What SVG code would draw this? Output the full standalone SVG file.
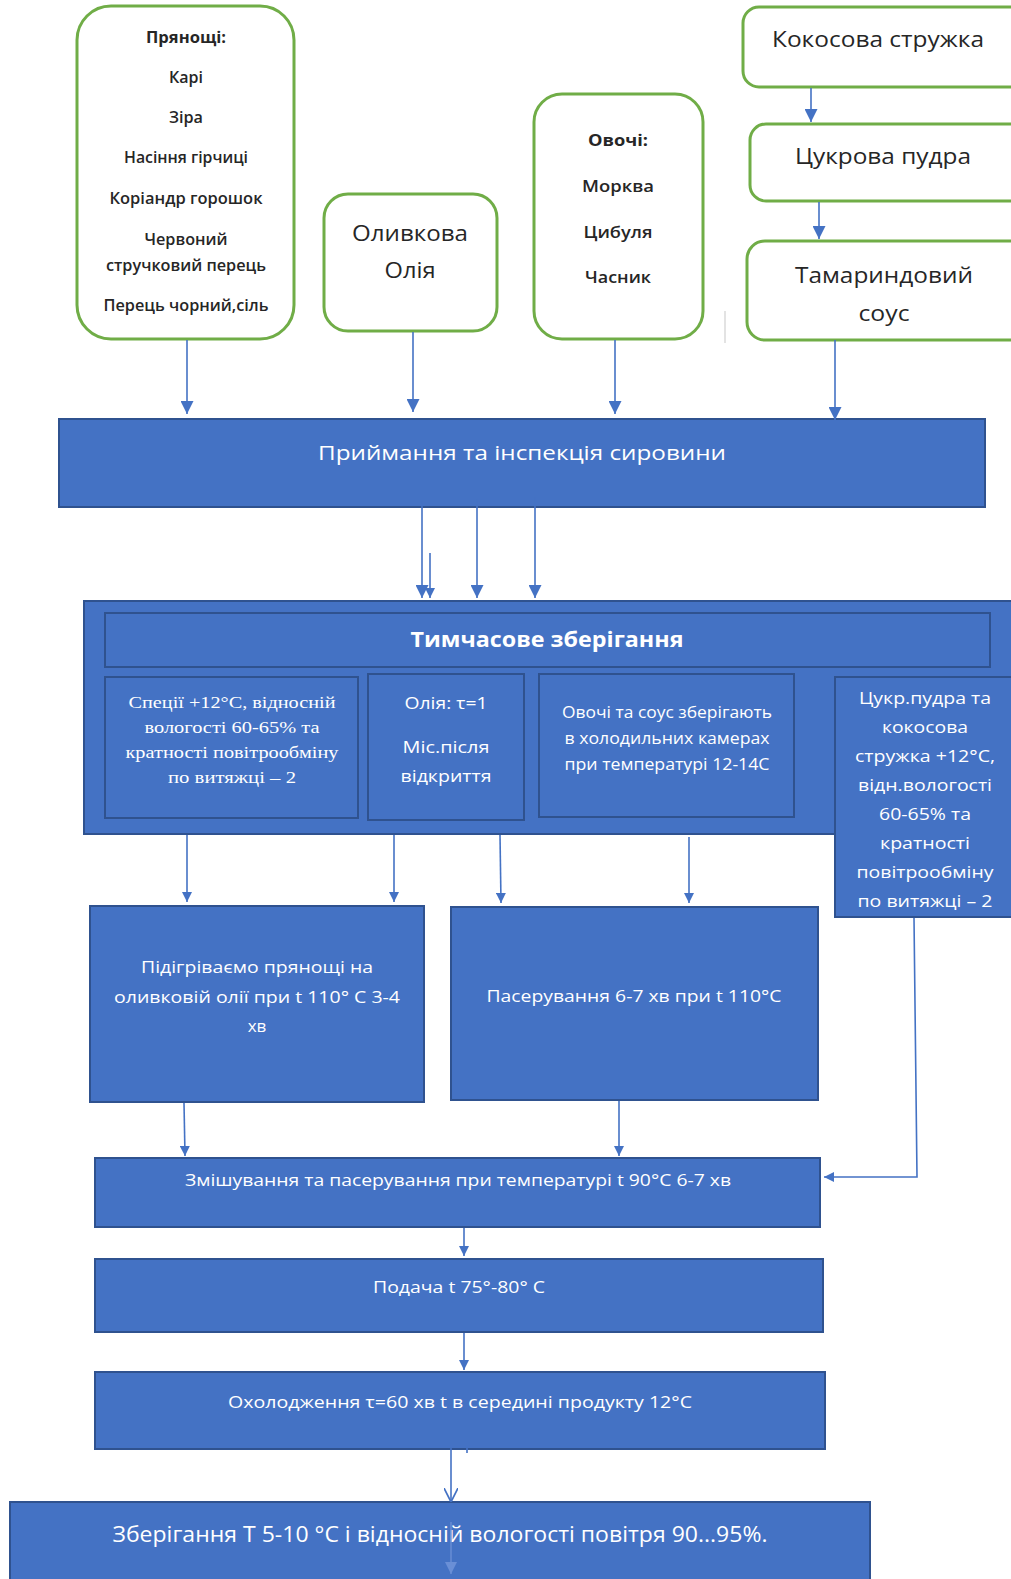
<svg xmlns="http://www.w3.org/2000/svg" width="1011" height="1579" viewBox="0 0 1011 1579">
<style>
.g{fill:#fff;stroke:#70AD47;stroke-width:3}
.b{fill:#4472C4;stroke:#2F528F;stroke-width:2}
.dk{font-family:"Open Sans","Noto Sans",sans-serif;fill:#262626;text-anchor:middle}
.wt{font-family:"Open Sans","Noto Sans",sans-serif;fill:#fff;text-anchor:middle}
.sf{font-family:"Liberation Serif","DejaVu Serif",serif;fill:#fff;text-anchor:middle}
.c{fill:none;stroke:#4472C4;stroke-width:1.6}
</style>
<defs>
<marker id="ah" viewBox="0 0 10 10" refX="10" refY="5" markerWidth="13" markerHeight="13" markerUnits="userSpaceOnUse" orient="auto"><path d="M0,0 L10,5 L0,10 z" fill="#4472C4"/></marker>
<marker id="as" viewBox="0 0 10 10" refX="10" refY="5" markerWidth="11" markerHeight="10" markerUnits="userSpaceOnUse" orient="auto"><path d="M0,0 L10,5 L0,10 z" fill="#4472C4"/></marker>
<marker id="ao" viewBox="0 0 10 10" refX="10" refY="5" markerWidth="14" markerHeight="14" markerUnits="userSpaceOnUse" orient="auto"><path d="M0,0 L10,5 L0,10" fill="none" stroke="#4472C4" stroke-width="1.2"/></marker>
<marker id="af" viewBox="0 0 10 10" refX="10" refY="5" markerWidth="16" markerHeight="12" markerUnits="userSpaceOnUse" orient="auto"><path d="M0,0 L10,5 L0,10 z" fill="#6a8fd6"/></marker>
</defs>

<g id="n-spices">
<rect class="g" x="77" y="6" width="217" height="333" rx="34"/>
<text class="dk" font-size="15.5" font-weight="700" x="186" y="43" textLength="80" lengthAdjust="spacingAndGlyphs">Прянощі:</text>
<text class="dk" font-size="15.5" font-weight="600" x="186" y="83" textLength="34" lengthAdjust="spacingAndGlyphs">Карі</text>
<text class="dk" font-size="15.5" font-weight="600" x="186" y="123" textLength="34" lengthAdjust="spacingAndGlyphs">Зіра</text>
<text class="dk" font-size="15.5" font-weight="600" x="186" y="163" textLength="124" lengthAdjust="spacingAndGlyphs">Насіння гірчиці</text>
<text class="dk" font-size="15.5" font-weight="600" x="186" y="204" textLength="153" lengthAdjust="spacingAndGlyphs">Коріандр горошок</text>
<text class="dk" font-size="15.5" font-weight="600" x="186" y="245" textLength="83" lengthAdjust="spacingAndGlyphs">Червоний</text>
<text class="dk" font-size="15.5" font-weight="600" x="186" y="271" textLength="160" lengthAdjust="spacingAndGlyphs">стручковий перець</text>
<text class="dk" font-size="15.5" font-weight="600" x="186" y="311" textLength="165" lengthAdjust="spacingAndGlyphs">Перець чорний,сіль</text>
</g>

<g id="n-olive">
<rect class="g" x="324" y="194" width="173" height="137" rx="24"/>
<text class="dk" font-size="21" x="410" y="241" textLength="116" lengthAdjust="spacingAndGlyphs">Оливкова</text>
<text class="dk" font-size="21" x="410" y="278" textLength="51" lengthAdjust="spacingAndGlyphs">Олія</text>
</g>

<g id="n-veg">
<rect class="g" x="534" y="94" width="169" height="245" rx="28"/>
<text class="dk" font-size="16.5" font-weight="700" x="618" y="146" textLength="60" lengthAdjust="spacingAndGlyphs">Овочі:</text>
<text class="dk" font-size="16.5" font-weight="600" x="618" y="192" textLength="72" lengthAdjust="spacingAndGlyphs">Морква</text>
<text class="dk" font-size="16.5" font-weight="600" x="618" y="238" textLength="69" lengthAdjust="spacingAndGlyphs">Цибуля</text>
<text class="dk" font-size="16.5" font-weight="600" x="618" y="283" textLength="66" lengthAdjust="spacingAndGlyphs">Часник</text>
</g>

<line x1="725" y1="311" x2="725" y2="343" stroke="#d0d0d0" stroke-width="1.2"/>

<g id="n-coconut">
<rect class="g" x="743" y="7" width="290" height="80" rx="16"/>
<text class="dk" font-size="21" x="878" y="47" textLength="212" lengthAdjust="spacingAndGlyphs">Кокосова стружка</text>
</g>

<g id="n-sugar">
<rect class="g" x="750" y="124" width="290" height="77" rx="16"/>
<text class="dk" font-size="21" x="883" y="164" textLength="176" lengthAdjust="spacingAndGlyphs">Цукрова пудра</text>
</g>

<g id="n-tamarind">
<rect class="g" x="747" y="241" width="290" height="99" rx="18"/>
<text class="dk" font-size="21" x="884" y="283" textLength="178" lengthAdjust="spacingAndGlyphs">Тамариндовий</text>
<text class="dk" font-size="21" x="884" y="321" textLength="51" lengthAdjust="spacingAndGlyphs">соус</text>
</g>

<g id="n-receive">
<rect class="b" x="59" y="419" width="926" height="88"/>
<text class="wt" font-size="20" x="522" y="460" textLength="408" lengthAdjust="spacingAndGlyphs">Приймання та інспекція сировини</text>
</g>

<g id="n-storage">
<rect class="b" x="84" y="601" width="940" height="233"/>
<rect class="b" x="105" y="613" width="885" height="54"/>
<text class="wt" font-size="21" font-weight="700" x="547" y="647" textLength="273" lengthAdjust="spacingAndGlyphs">Тимчасове зберігання</text>
</g>

<g id="n-st-spices">
<rect class="b" x="105" y="677" width="253" height="141"/>
<text class="sf" font-size="17" x="232" y="708" textLength="207" lengthAdjust="spacingAndGlyphs">Спеції +12°С, відносній</text>
<text class="sf" font-size="17" x="232" y="733" textLength="175" lengthAdjust="spacingAndGlyphs">вологості 60-65% та</text>
<text class="sf" font-size="17" x="232" y="758" textLength="213" lengthAdjust="spacingAndGlyphs">кратності повітрообміну</text>
<text class="sf" font-size="17" x="232" y="783" textLength="128" lengthAdjust="spacingAndGlyphs">по витяжці – 2</text>
</g>

<g id="n-st-oil">
<rect class="b" x="368" y="674" width="156" height="146"/>
<text class="wt" font-size="17" x="446" y="709" textLength="83" lengthAdjust="spacingAndGlyphs">Олія: τ=1</text>
<text class="wt" font-size="17" x="446" y="753" textLength="87" lengthAdjust="spacingAndGlyphs">Міс.після</text>
<text class="wt" font-size="17" x="446" y="782" textLength="91" lengthAdjust="spacingAndGlyphs">відкриття</text>
</g>

<g id="n-st-veg">
<rect class="b" x="539" y="674" width="255" height="143"/>
<text class="wt" font-size="16" x="667" y="718" textLength="210" lengthAdjust="spacingAndGlyphs">Овочі та соус зберігають</text>
<text class="wt" font-size="16" x="667" y="744" textLength="205" lengthAdjust="spacingAndGlyphs">в холодильних камерах</text>
<text class="wt" font-size="16" x="667" y="770" textLength="205" lengthAdjust="spacingAndGlyphs">при температурі 12-14С</text>
</g>

<g id="n-st-sugar">
<rect class="b" x="835" y="677" width="200" height="240"/>
<text class="wt" font-size="17" x="925" y="704" textLength="132" lengthAdjust="spacingAndGlyphs">Цукр.пудра та</text>
<text class="wt" font-size="17" x="925" y="733" textLength="86" lengthAdjust="spacingAndGlyphs">кокосова</text>
<text class="wt" font-size="17" x="925" y="762" textLength="140" lengthAdjust="spacingAndGlyphs">стружка +12°С,</text>
<text class="wt" font-size="17" x="925" y="791" textLength="134" lengthAdjust="spacingAndGlyphs">відн.вологості</text>
<text class="wt" font-size="17" x="925" y="820" textLength="92" lengthAdjust="spacingAndGlyphs">60-65% та</text>
<text class="wt" font-size="17" x="925" y="849" textLength="90" lengthAdjust="spacingAndGlyphs">кратності</text>
<text class="wt" font-size="17" x="925" y="878" textLength="137" lengthAdjust="spacingAndGlyphs">повітрообміну</text>
<text class="wt" font-size="17" x="925" y="907" textLength="135" lengthAdjust="spacingAndGlyphs">по витяжці – 2</text>
</g>

<g id="n-heat">
<rect class="b" x="90" y="906" width="334" height="196"/>
<text class="wt" font-size="17" x="257" y="973" textLength="232" lengthAdjust="spacingAndGlyphs">Підігріваємо прянощі на</text>
<text class="wt" font-size="17" x="257" y="1003" textLength="286" lengthAdjust="spacingAndGlyphs">оливковій олії при t 110° С 3-4</text>
<text class="wt" font-size="17" x="257" y="1032">хв</text>
</g>

<g id="n-saute">
<rect class="b" x="451" y="907" width="367" height="193"/>
<text class="wt" font-size="17" x="634" y="1002" textLength="295" lengthAdjust="spacingAndGlyphs">Пасерування 6-7 хв при t 110°C</text>
</g>

<g id="n-mix">
<rect class="b" x="95" y="1158" width="725" height="69"/>
<text class="wt" font-size="16" x="458" y="1186" textLength="546" lengthAdjust="spacingAndGlyphs">Змішування та пасерування при температурі t 90°С 6-7 хв</text>
</g>

<g id="n-serve">
<rect class="b" x="95" y="1259" width="728" height="73"/>
<text class="wt" font-size="16" x="459" y="1293" textLength="172" lengthAdjust="spacingAndGlyphs">Подача t 75°-80° С</text>
</g>

<g id="n-cool">
<rect class="b" x="95" y="1372" width="730" height="77"/>
<text class="wt" font-size="16" x="460" y="1408" textLength="464" lengthAdjust="spacingAndGlyphs">Охолодження τ=60 хв t в середині продукту 12°С</text>
</g>

<g id="n-store">
<rect class="b" x="10" y="1502" width="860" height="90"/>
<text class="wt" font-size="21" x="440" y="1542" textLength="655" lengthAdjust="spacingAndGlyphs">Зберігання Т 5-10 °С і відносній вологості повітря 90...95%.</text>
</g>

<g id="connectors">
<line class="c" x1="187" y1="340" x2="187" y2="414" marker-end="url(#ah)"/>
<line class="c" x1="413" y1="332" x2="413" y2="412" marker-end="url(#ah)"/>
<line class="c" x1="615" y1="340" x2="615" y2="414" marker-end="url(#ah)"/>
<line class="c" x1="835" y1="340" x2="835" y2="420" marker-end="url(#ah)"/>
<line class="c" x1="811" y1="88" x2="811" y2="122" marker-end="url(#ah)"/>
<line class="c" x1="819" y1="202" x2="819" y2="239" marker-end="url(#ah)"/>
<line class="c" x1="422" y1="501" x2="422" y2="598" marker-end="url(#ah)"/>
<line class="c" x1="430" y1="553" x2="430" y2="598" marker-end="url(#as)"/>
<line class="c" x1="477" y1="499" x2="477" y2="598" marker-end="url(#ah)"/>
<line class="c" x1="535" y1="497" x2="535" y2="598" marker-end="url(#ah)"/>
<line class="c" x1="187" y1="835" x2="187" y2="902" marker-end="url(#as)"/>
<line class="c" x1="394" y1="835" x2="394" y2="902" marker-end="url(#as)"/>
<line class="c" x1="500" y1="835" x2="501" y2="903" marker-end="url(#as)"/>
<line class="c" x1="689" y1="837" x2="689" y2="903" marker-end="url(#as)"/>
<line class="c" x1="184" y1="1103" x2="185" y2="1156" marker-end="url(#as)"/>
<line class="c" x1="619" y1="1101" x2="619" y2="1156" marker-end="url(#as)"/>
<polyline class="c" points="914,918 917,1177 824,1177" marker-end="url(#as)"/>
<line class="c" x1="464" y1="1228" x2="464" y2="1256" marker-end="url(#as)"/>
<line class="c" x1="464" y1="1333" x2="464" y2="1370" marker-end="url(#as)"/>
<line class="c" x1="451" y1="1447" x2="451" y2="1502" marker-end="url(#ao)"/>
<line class="c" x1="467" y1="1447" x2="467" y2="1453"/>
<line x1="451" y1="1522" x2="451" y2="1574" stroke="#6a8fd6" stroke-width="1.4" marker-end="url(#af)"/>
</g>
</svg>
